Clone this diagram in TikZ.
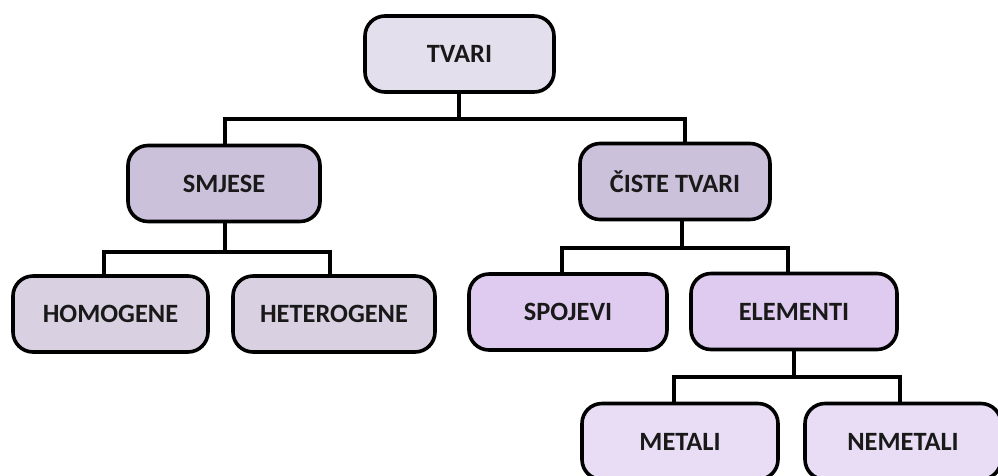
\documentclass[tikz,border=0pt]{standalone}
\usepackage{fontspec}
\setmainfont{Carlito}
\definecolor{cTop}{HTML}{E4DFEC}
\definecolor{cMid}{HTML}{CCC1DA}
\definecolor{cMix}{HTML}{D9D0E1}
\definecolor{cPure}{HTML}{DFCBEF}
\definecolor{cEl}{HTML}{E9DDF5}
\tikzset{
  box/.style={draw=black, line width=3.6pt, rounded corners=20pt, minimum height=76pt,
    inner sep=0pt, font=\fontsize{26.4}{30}\selectfont\bfseries, text=black!90},
  conn/.style={line width=3.6pt, line join=miter}
}
\begin{document}
\begin{tikzpicture}[x=1pt,y=1pt]
\useasboundingbox (0,0) rectangle (998,-475);
\node[box, fill=cTop, minimum width=189pt] (tvari) at (459.5,-54) {TVARI};
\node[box, fill=cMid, minimum width=192pt] (smjese) at (224,-183.5) {SMJESE};
\node[box, fill=cMid, minimum width=190pt] (ciste) at (675,-181.5) {ČISTE TVARI};
\node[box, fill=cMix, minimum width=195pt] (homog) at (110.5,-314) {HOMOGENE};
\node[box, fill=cMix, minimum width=202pt] (heter) at (334,-314) {HETEROGENE};
\node[box, fill=cPure, minimum width=198pt] (spoj) at (568,-312) {SPOJEVI};
\node[box, fill=cPure, minimum width=206pt] (elem) at (794,-311.5) {ELEMENTI};
\node[box, fill=cEl, minimum width=196pt] (metal) at (680,-441.5) {METALI};
\node[box, fill=cEl, minimum width=196pt] (nemetal) at (903,-441.5) {NEMETALI};
% bus 1
\coordinate (b1m) at (459,-119);
\coordinate (b1l) at (225,-119);
\coordinate (b1r) at (685,-119);
\draw[conn] (tvari.south -| b1m) -- (b1m);
\draw[conn] (b1l |- smjese.north) -- (b1l) -- (b1r) -- (b1r |- ciste.north);
% bus 2
\coordinate (b2m) at (225,-252);
\coordinate (b2l) at (104,-252);
\coordinate (b2r) at (330,-252);
\draw[conn] (smjese.south -| b2m) -- (b2m);
\draw[conn] (b2l |- homog.north) -- (b2l) -- (b2r) -- (b2r |- heter.north);
% bus 3
\coordinate (b3m) at (682,-248);
\coordinate (b3l) at (562,-248);
\coordinate (b3r) at (788,-248);
\draw[conn] (ciste.south -| b3m) -- (b3m);
\draw[conn] (b3l |- spoj.north) -- (b3l) -- (b3r) -- (b3r |- elem.north);
% bus 4
\coordinate (b4m) at (794,-377);
\coordinate (b4l) at (674,-377);
\coordinate (b4r) at (900,-377);
\draw[conn] (elem.south -| b4m) -- (b4m);
\draw[conn] (b4l |- metal.north) -- (b4l) -- (b4r) -- (b4r |- nemetal.north);
\end{tikzpicture}
\end{document}
